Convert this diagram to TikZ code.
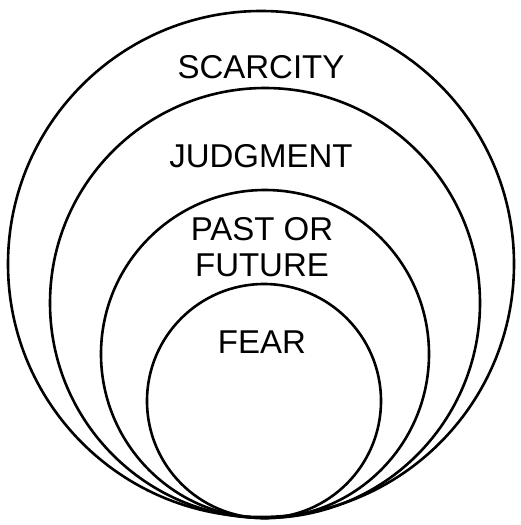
\documentclass[tikz,border=0pt]{standalone}
\usepackage{fontspec}
\setmainfont{Liberation Sans}
\begin{document}
\begin{tikzpicture}[x=1pt,y=-1pt,
  ring/.style={draw=black,line width=2.6pt,circle,inner sep=0pt},
  lbl/.style={anchor=base,inner sep=0pt,font=\fontsize{33}{36}\selectfont}]
\useasboundingbox (0,0) rectangle (521,525);
\node[ring,minimum size=506pt] (c1) at (261,264) {};
\node[ring,minimum size=430pt] (c2) at (265,303) {};
\node[ring,minimum size=328pt] (c3) at (265,354) {};
\node[ring,minimum size=234pt] (c4) at (264,401) {};
\node[lbl] (t1) at (261,78) {SCARCITY};
\node[lbl] (t2) at (261,167) {JUDGMENT};
\node[lbl] (t3) at (262,240) {PAST OR};
\node[lbl] (t4) at (262,276) {FUTURE};
\node[lbl] (t5) at (262,353) {FEAR};
\end{tikzpicture}
\end{document}
